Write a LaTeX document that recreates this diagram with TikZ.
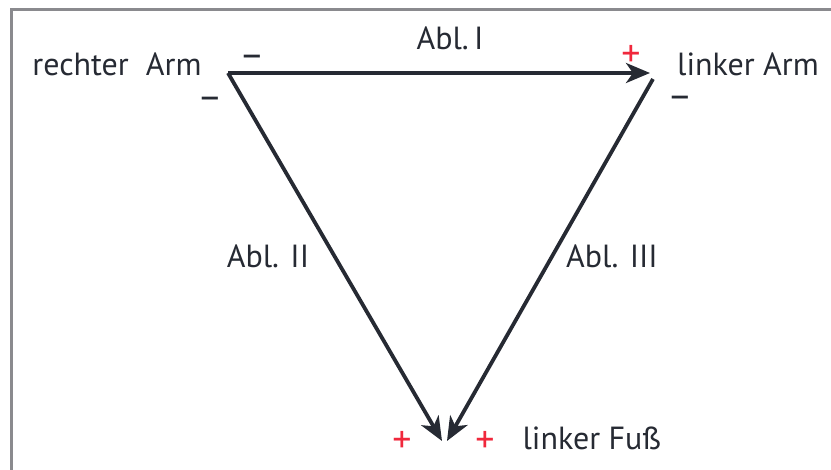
\documentclass[tikz,border=0pt]{standalone}
\usepackage{fontspec}
\setmainfont{PT Sans}
\usetikzlibrary{arrows.meta}
\definecolor{txt}{HTML}{262A33}
\definecolor{frame}{HTML}{8A8A8E}
\definecolor{plus}{HTML}{F0283C}
\begin{document}
\begin{tikzpicture}[x=1pt,y=-1pt,
  lbl/.style={font=\fontsize{32}{32}\selectfont, text=txt, inner sep=0pt, anchor=base},
  pm/.style={font=\fontsize{38}{38}\selectfont, inner sep=0pt, anchor=base, text height=20pt, text depth=0pt},
  pl/.style={pm, text=plus},
  mi/.style={pm, text=txt, text height=13pt},
  conn/.style={draw=txt, line width=3.8pt, -{Stealth[length=24pt,width=20pt,inset=7pt]}}]
\useasboundingbox (0,0) rectangle (831,470);
\draw[frame, line width=3pt] (11,500) -- (11,10) -- (840,10);
% vertices
\coordinate (RA) at (228,73);
\coordinate (LAt) at (650,73);
\coordinate (LA) at (653,79);
\coordinate (LF1) at (442,441);
\coordinate (LF2) at (447,441);
% connectors
\draw[conn] (RA) -- (LAt);
\draw[conn] (RA) -- (LF1);
\draw[conn] (LA) -- (LF2);
% labels
\node[lbl] (tRA) at (117,76) {rechter\ \ Arm};
\node[lbl] (tLA) at (748,76) {linker Arm};
\node[lbl] (tLF) at (592,450) {linker Fuß};
\node[lbl] (t1) at (450,50) {Abl.\,I};
\node[lbl] (t2) at (268,268) {Abl. II};
\node[lbl] (t3) at (612,268) {Abl. III};
% signs
\node[mi] (m1) at (252,68) {–};
\node[mi] (m2) at (210,110) {–};
\node[mi] (m3) at (680,109) {–};
\node[pl] (p1) at (631,67) {+};
\node[pl] (p2) at (402,453) {+};
\node[pl] (p3) at (485,453) {+};
\end{tikzpicture}
\end{document}
